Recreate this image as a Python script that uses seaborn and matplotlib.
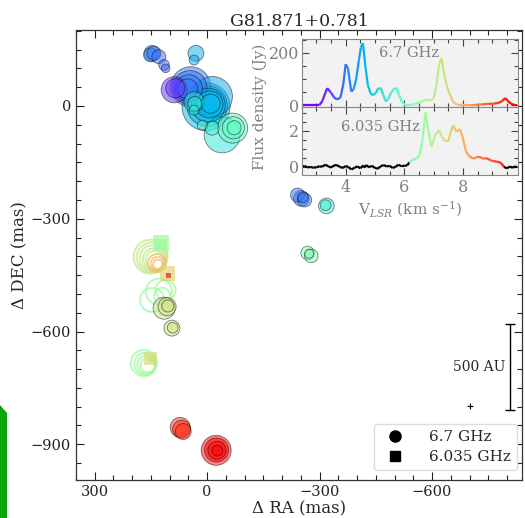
import numpy as np
import pandas as pd
import matplotlib
matplotlib.use("Agg")
import matplotlib.pyplot as plt
import seaborn as sns
from matplotlib.collections import LineCollection
from matplotlib.lines import Line2D
from matplotlib.patches import Polygon
from matplotlib.ticker import MultipleLocator

# ---------------- maser spot data ----------------
# 6.7 GHz methanol spots (filled circles)
spot67_ra = [147, 151, 142, 129, 115, 111,
             30, 35,
             88, 85,
             44, 46, 49, 52,
             -14,
             3, 0, -3, -6, -9,
             35, 35, 33,
             13, -13,
             -40,
             -68, -70, -72,
             -241, -251, -260, -255,
             -318, -316,
             -268, -278, -272,
             115, 107, 105, 94, 92,
             72, 68, 64,
             -24, -25, -26, -27]
spot67_dec = [140, 136, 140, 131, 109, 100,
              140, 122,
              43, 47,
              51, 49, 47, 45,
              25,
              -2, 0, 2, 4, 6,
              11, -11, 6,
              -51, -59,
              -77,
              -59, -58, -58,
              -237, -246, -250, -243,
              -266, -264,
              -391, -399, -393,
              -538, -534, -532, -591, -590,
              -855, -860, -866,
              -916, -915, -916, -917]
spot67_vel = [4.15, 4.1, 4.05, 3.95, 3.85, 3.8,
              4.55, 4.5,
              3.4, 3.45,
              4.0, 4.0, 4.05, 4.05,
              4.5,
              4.65, 4.65, 4.7, 4.7, 4.75,
              5.3, 5.35, 5.3,
              5.8, 5.65,
              5.3,
              5.95, 5.95, 6.0,
              3.95, 4.0, 4.05, 4.0,
              5.5, 5.5,
              6.3, 6.4, 6.35,
              7.3, 7.3, 7.35, 7.3, 7.3,
              9.2, 9.25, 9.25,
              9.55, 9.55, 9.6, 9.6]
spot67_flux = [31, 24, 24, 24, 14, 9,
               31, 12,
               83, 45,
               196, 140, 90, 50,
               196,
               282, 200, 140, 90, 45,
               49, 12, 25,
               12, 24,
               158,
               110, 60, 24,
               24, 30, 24, 14,
               30, 14,
               22, 22, 10,
               59, 40, 18, 31, 14,
               49, 40, 31,
               110, 70, 40, 14]

# 6.035 GHz spots drawn as rings
ring_ra = [151, 148, 145, 142, 140,
           134, 132, 131,
           147, 129, 111, 120,
           169, 165, 162, 159]
ring_dec = [-401, -403, -405, -408, -410,
            -418, -420, -422,
            -516, -494, -490, -505,
            -684, -686, -688, -690]
ring_vel = [7.2, 7.2, 7.15, 7.15, 7.1,
            7.85, 7.85, 7.9,
            6.7, 6.7, 6.75, 6.7,
            6.7, 6.7, 6.75, 6.75]
ring_flux = [141, 110, 83, 59, 40,
             40, 24, 12,
             70, 83, 49, 31,
             83, 59, 40, 24]

# 6.035 GHz spots drawn as squares
sq_ra = [124, 121, 107, 104, 151, 149]
sq_dec = [-365, -368, -447, -450, -671, -673]
sq_vel = [6.7, 6.7, 7.5, 9.4, 7.4, 7.4]
sq_flux = [31, 15, 27.5, 3, 21, 6]

# ---------------- spectra ----------------
vel67 = [2.50, 2.70, 2.90, 3.10, 3.20, 3.37, 3.50, 3.60, 3.70, 3.82,
         3.92, 4.00, 4.08, 4.19, 4.27, 4.36, 4.45, 4.52, 4.59, 4.67,
         4.76, 4.85, 4.93, 5.02, 5.10, 5.20, 5.28, 5.37, 5.46, 5.55,
         5.64, 5.73, 5.82, 5.92, 6.05, 6.20, 6.35, 6.50, 6.62, 6.75,
         6.88, 7.00, 7.09, 7.18, 7.27, 7.36, 7.46, 7.56, 7.67, 7.78,
         7.90, 8.05, 8.25, 8.45, 8.65, 8.85, 9.05, 9.20, 9.33, 9.44,
         9.55, 9.65, 9.75, 9.85]
flux67 = [0, 0, 0, 0, 15, 65, 48, 30, 22, 28,
          80, 156, 140, 52, 60, 100, 170, 220, 236, 150,
          75, 45, 38, 45, 63, 65, 40, 14, 25, 48,
          62, 65, 40, 12, 0, 1, 4, 10, 16, 22,
          18, 26, 70, 150, 179, 120, 70, 40, 12, 3,
          0, 0, 0, 1, 3, 5, 6, 8, 15, 27,
          15, 5, 1, 0]

vel6035 = [2.50, 2.60, 2.70, 2.80, 2.90, 3.00, 3.10, 3.20, 3.30, 3.40,
           3.50, 3.60, 3.70, 3.80, 3.90, 4.00, 4.10, 4.20, 4.30, 4.40,
           4.50, 4.60, 4.65, 4.70, 4.80, 4.90, 5.00, 5.10, 5.20, 5.30,
           5.40, 5.50, 5.60, 5.70, 5.80, 5.90, 6.00, 6.10, 6.17, 6.30,
           6.40, 6.52, 6.62, 6.72, 6.82, 6.93, 7.05, 7.18, 7.28, 7.38,
           7.50, 7.60, 7.67, 7.78, 7.90, 7.98, 8.10, 8.20, 8.35, 8.48,
           8.58, 8.70, 8.82, 8.95, 9.05, 9.18, 9.30, 9.40, 9.50, 9.60,
           9.70, 9.78, 9.85]
flux6035 = [0.02, 0.05, -0.03, 0.00, -0.05, -0.02, 0.03, 0.01, 0.12, 0.04,
            -0.04, 0.08, 0.10, 0.00, -0.06, 0.05, -0.02, -0.14, -0.05, 0.03,
            -0.08, 0.08, -0.04, 0.10, -0.02, 0.06, -0.06, -0.10, 0.04, 0.10,
            0.02, 0.06, -0.06, 0.00, 0.12, 0.04, 0.06, 0.08, 0.25, 0.40,
            0.45, 0.63, 1.50, 3.02, 2.00, 1.12, 1.75, 2.05, 1.70, 1.42,
            1.42, 2.00, 2.30, 1.95, 2.10, 1.70, 0.90, 0.62, 0.45, 0.55,
            0.55, 0.45, 0.48, 0.36, 0.32, 0.28, 0.22, 0.00, -0.08, 0.02,
            -0.05, 0.03, -0.02]
emission6035 = (6.17, 9.40)

# colour scale shared by spots and spectra
vel_range = (3.0, 9.6)
flux_norm = (0, 300)
area_range = (0, 1272)

# ---------------- style ----------------
sns.set_style("ticks")
plt.rcParams["font.family"] = ["DejaVu Serif"]
plt.rcParams["mathtext.fontset"] = "dejavuserif"

fig = plt.figure(figsize=(5.25, 5.18), dpi=100)
ax = fig.add_axes([76 / 525, 38 / 518, 446 / 525, 450 / 518])

df67 = pd.DataFrame({"ra": spot67_ra, "dec": spot67_dec,
                     "vel": spot67_vel, "flux": spot67_flux})
df67 = df67.sort_values("flux", ascending=False, kind="stable")
rings = pd.DataFrame({"ra": ring_ra, "dec": ring_dec,
                      "vel": ring_vel, "flux": ring_flux})
rings = rings.sort_values("flux", ascending=False, kind="stable")
squares = pd.DataFrame({"ra": sq_ra, "dec": sq_dec,
                        "vel": sq_vel, "flux": sq_flux})
squares = squares.sort_values("flux", ascending=False, kind="stable")

common = dict(x="ra", y="dec", hue="vel", size="flux", palette="rainbow",
              hue_norm=vel_range, size_norm=flux_norm, sizes=area_range,
              legend=False, ax=ax)

# hollow rings
sns.scatterplot(data=rings, marker="o", linewidth=1.4, alpha=0.75, **common)
ring_coll = ax.collections[-1]
ring_coll.set_edgecolors(ring_coll.get_facecolors())
ring_coll.set_facecolors("none")

# filled 6.7 GHz spots
sns.scatterplot(data=df67, marker="o", edgecolor="k", linewidth=0.6,
                alpha=0.5, **common)

# 6.035 GHz squares
sns.scatterplot(data=squares, marker="s", linewidth=0, alpha=0.7, **common)

ax.set_xlim(350, -840)
ax.set_ylim(-995, 202)
ax.set_xlabel("Δ RA (mas)", fontsize=12, labelpad=1)
ax.set_ylabel("Δ DEC (mas)", fontsize=12, labelpad=2)
ax.set_title("G81.871+0.781", fontsize=12.5, pad=3)
ax.xaxis.set_major_locator(MultipleLocator(300))
ax.xaxis.set_minor_locator(MultipleLocator(50))
ax.yaxis.set_major_locator(MultipleLocator(300))
ax.yaxis.set_minor_locator(MultipleLocator(50))
ax.tick_params(which="both", direction="in", top=True, right=True,
               labelsize=10.5, colors="#222222")
ax.tick_params(which="major", length=6, width=0.8)
ax.tick_params(which="minor", length=3.5, width=0.8)
for sp in ax.spines.values():
    sp.set_color("#333333")
    sp.set_linewidth(0.9)

# 500 AU scale bar
ax.errorbar([-809], [-695], yerr=[115], color="k", capsize=3.5, lw=1,
            capthick=1)
ax.text(-796, -695, "500 AU", ha="right", va="center", fontsize=10)
ax.plot([-702], [-798], marker="+", color="k", ms=4, mew=0.8)

handles = [Line2D([], [], marker="o", color="k", ls="", ms=8),
           Line2D([], [], marker="s", color="k", ls="", ms=7.5)]
ax.legend(handles, ["6.7 GHz", "6.035 GHz"], loc="lower right",
          bbox_to_anchor=(0.989, 0.022), borderaxespad=0, fontsize=11,
          handletextpad=1.2, labelspacing=0.4, frameon=True,
          edgecolor="#dddddd", framealpha=1)

# ---------------- spectra inset ----------------
cmap = plt.get_cmap("rainbow")
norm = matplotlib.colors.Normalize(*vel_range)


def colored_line(axis, v, f, span=None):
    v = np.asarray(v, float)
    f = np.asarray(f, float)
    pts = np.column_stack([v, f]).reshape(-1, 1, 2)
    segs = np.concatenate([pts[:-1], pts[1:]], axis=1)
    mid = 0.5 * (v[:-1] + v[1:])
    cols = cmap(norm(mid))
    if span is not None:
        outside = (mid < span[0]) | (mid > span[1])
        cols[outside] = (0, 0, 0, 1)
    axis.add_collection(LineCollection(segs, colors=cols, linewidths=1.6))


x0, w = 301.7 / 525, 216 / 525
ax_top = fig.add_axes([x0, (518 - 106.5) / 518, w, 67.5 / 518])
ax_bot = fig.add_axes([x0, (518 - 175) / 518, w, 68.5 / 518])

colored_line(ax_top, vel67, flux67)
colored_line(ax_bot, vel6035, flux6035, span=emission6035)

grey = "#808080"
for a in (ax_top, ax_bot):
    a.set_facecolor("#f2f2f2")
    a.set_xlim(2.5, 9.87)
    a.xaxis.set_major_locator(MultipleLocator(2))
    a.xaxis.set_minor_locator(MultipleLocator(0.5))
    a.tick_params(which="both", direction="in", top=True, right=True,
                  labelsize=11.5, labelcolor=grey, color="#444444")
    a.tick_params(which="major", length=5, width=0.8)
    a.tick_params(which="minor", length=3, width=0.8)
    for sp in a.spines.values():
        sp.set_color("#888888")
        sp.set_linewidth(0.8)

ax_top.set_ylim(-5, 252)
ax_top.yaxis.set_major_locator(MultipleLocator(200))
ax_top.yaxis.set_minor_locator(MultipleLocator(50))
ax_top.tick_params(labelbottom=False)
ax_top.text(6.15, 200, "6.7 GHz", ha="center", va="center",
            fontsize=10.5, color=grey)

ax_bot.set_ylim(-0.45, 3.35)
ax_bot.yaxis.set_major_locator(MultipleLocator(2))
ax_bot.yaxis.set_minor_locator(MultipleLocator(0.5))
ax_bot.text(5.2, 2.24, "6.035 GHz", ha="center", va="center",
            fontsize=10.5, color=grey)
ax_bot.set_xlabel(r"V$_{LSR}$ (km s$^{-1}$)", fontsize=11, color=grey,
                  labelpad=2)
ax_top.tick_params(axis="y", pad=2)
ax_bot.tick_params(axis="y", pad=2)
ax_bot.tick_params(axis="x", pad=3)

fig.text(260 / 525, (518 - 107) / 518, "Flux density (Jy)", rotation=90,
         ha="center", va="center", fontsize=11, color=grey)

# green edge tab on the left margin
fig.patches.append(Polygon([[0, 1 - 405 / 518], [7 / 525, 1 - 413 / 518],
                            [7 / 525, 0], [0, 0]], closed=True,
                           transform=fig.transFigure, facecolor="#0aa50a",
                           edgecolor="none"))

fig.savefig("out.png", dpi=100)
